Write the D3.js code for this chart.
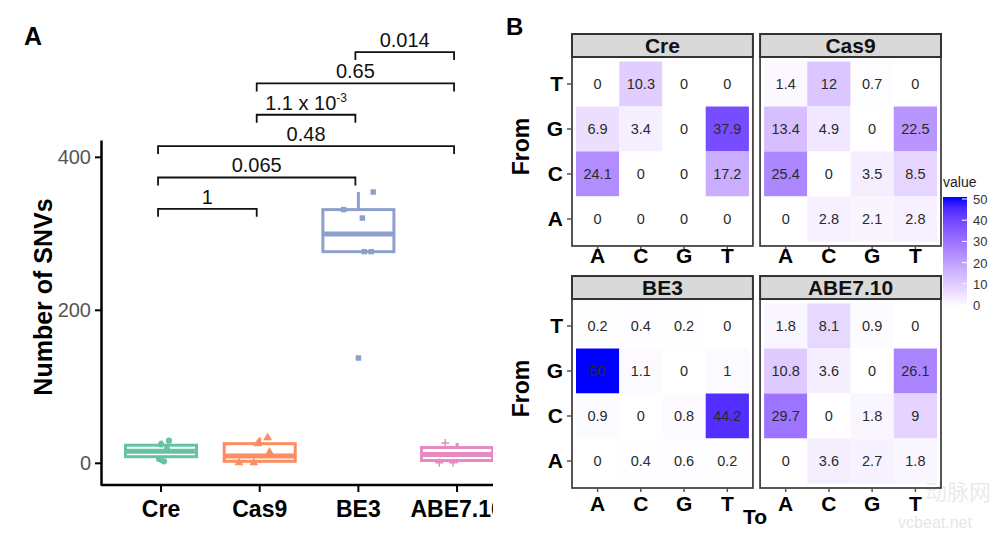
<!DOCTYPE html>
<html>
<head>
<meta charset="utf-8">
<script src="https://cdn.jsdelivr.net/npm/d3@7"></script>
<style>
  body { margin: 0; background: #fff; }
  text { font-family: "Liberation Sans", Arial, sans-serif; }
</style>
</head>
<body>
<div id="chart"></div>
<script>
// ---- panel A data
var groups = ["Cre", "Cas9", "BE3", "ABE7.10"];
var groupColors = ["#66c2a5", "#fc8d62", "#8da0cb", "#e78ac3"];
var q1 = [8, 2, 276, 3];
var median = [15, 9, 299, 11];
var q3 = [23, 25, 331, 20];
var whiskLo = [0, 0, 276, 0];
var whiskHi = [29, 33, 354, 26];
// [group, value, jitter (fraction of band)]
var points = [
  ["Cre", 29, 0.08], ["Cre", 24, 0.0], ["Cre", 2, 0.03], ["Cre", 5, -0.02], ["Cre", 18, 0.06],
  ["Cas9", 33, 0.08], ["Cas9", 25, -0.02], ["Cas9", 0, -0.21], ["Cas9", 0, -0.06], ["Cas9", 14, 0.1],
  ["BE3", 354, 0.15], ["BE3", 331, -0.15], ["BE3", 320, 0.04], ["BE3", 276, 0.06], ["BE3", 276, 0.13], ["BE3", 137, 0.0],
  ["ABE7.10", 26, -0.12], ["ABE7.10", 0, -0.18], ["ABE7.10", 0, -0.04]
];
var yTicks = [0, 200, 400];
// comparisons, bottom to top
var compA = ["Cre", "Cre", "Cre", "Cas9", "Cas9", "BE3"];
var compB = ["Cas9", "BE3", "ABE7.10", "BE3", "ABE7.10", "ABE7.10"];
var compLabel = ["1", "0.065", "0.48", "1.1 x 10", "0.65", "0.014"];

// ---- panel B data
var facets = ["Cre", "Cas9", "BE3", "ABE7.10"];
var fromBases = ["T", "G", "C", "A"];
var toBases = ["A", "C", "G", "T"];
var creVals = [[0, 10.3, 0, 0], [6.9, 3.4, 0, 37.9], [24.1, 0, 0, 17.2], [0, 0, 0, 0]];
var cas9Vals = [[1.4, 12, 0.7, 0], [13.4, 4.9, 0, 22.5], [25.4, 0, 3.5, 8.5], [0, 2.8, 2.1, 2.8]];
var be3Vals = [[0.2, 0.4, 0.2, 0], [50, 1.1, 0, 1], [0.9, 0, 0.8, 44.2], [0, 0.4, 0.6, 0.2]];
var abeVals = [[1.8, 8.1, 0.9, 0], [10.8, 3.6, 0, 26.1], [29.7, 0, 1.8, 9], [0, 3.6, 2.7, 1.8]];
var legendTicks = [0, 10, 20, 30, 40, 50];

var svg = d3.select("#chart").append("svg")
  .attr("width", 1000)
  .attr("height", 538);

// ================= Panel A
var x = d3.scaleBand().domain(groups).range([111.7, 506.4]);
var y = d3.scaleLinear().domain([-29, 422]).range([485, 140]);
var color = d3.scaleOrdinal().domain(groups).range(groupColors);

svg.append("defs").append("clipPath").attr("id", "clipA")
  .append("rect").attr("x", 0).attr("y", 0).attr("width", 493).attr("height", 538);

var gA = svg.append("g").attr("clip-path", "url(#clipA)");

svg.append("text").attr("x", 24).attr("y", 45)
  .style("font-size", "25px").style("font-weight", "bold").text("A");

var yAxis = gA.append("g").attr("transform", "translate(101,0)")
  .call(d3.axisLeft(y).tickValues(yTicks).tickSize(6).tickSizeOuter(0));
yAxis.select(".domain").attr("stroke", "#000").attr("stroke-width", 2.5);
yAxis.selectAll(".tick line").attr("stroke", "#000").attr("stroke-width", 2);
yAxis.selectAll(".tick text").attr("fill", "#555").style("font-size", "20px").attr("dx", "-1");

var xAxis = gA.append("g").attr("transform", "translate(0,485)")
  .call(d3.axisBottom(x).tickSize(7).tickSizeOuter(0));
xAxis.select(".domain").attr("d", "M101,0H500").attr("stroke", "#000").attr("stroke-width", 2.5);
xAxis.selectAll(".tick line").attr("stroke", "#000").attr("stroke-width", 2);
xAxis.selectAll(".tick text").attr("fill", "#000").style("font-size", "23px")
  .style("font-weight", "bold").attr("y", 16);

gA.append("text")
  .attr("transform", "translate(52,297) rotate(-90)")
  .attr("text-anchor", "middle")
  .style("font-size", "25px").style("font-weight", "bold")
  .text("Number of SNVs");

var boxW = x.bandwidth() * 0.72;
groups.forEach(function (g, i) {
  var cx = x(g) + x.bandwidth() / 2;
  var c = color(g);
  var bg = gA.append("g");
  bg.append("line").attr("x1", cx).attr("x2", cx)
    .attr("y1", y(q3[i])).attr("y2", y(whiskHi[i]))
    .attr("stroke", c).attr("stroke-width", 3);
  bg.append("line").attr("x1", cx).attr("x2", cx)
    .attr("y1", y(q1[i])).attr("y2", y(whiskLo[i]))
    .attr("stroke", c).attr("stroke-width", 3);
  bg.append("rect")
    .attr("x", cx - boxW / 2).attr("width", boxW)
    .attr("y", y(q3[i])).attr("height", y(q1[i]) - y(q3[i]))
    .attr("fill", "#fff").attr("stroke", c).attr("stroke-width", 3);
  bg.append("line").attr("x1", cx - boxW / 2).attr("x2", cx + boxW / 2)
    .attr("y1", y(median[i])).attr("y2", y(median[i]))
    .attr("stroke", c).attr("stroke-width", 5);
});

var shapes = {
  "Cre": d3.symbol().type(d3.symbolCircle).size(30),
  "Cas9": d3.symbol().type(d3.symbolTriangle).size(34),
  "BE3": d3.symbol().type(d3.symbolSquare).size(30)
};
points.forEach(function (p) {
  var px = x(p[0]) + x.bandwidth() / 2 + p[2] * x.step();
  var py = y(p[1]);
  if (p[0] === "ABE7.10") {
    gA.append("path")
      .attr("d", "M" + (px - 4) + "," + py + "H" + (px + 4) + "M" + px + "," + (py - 4) + "V" + (py + 4))
      .attr("stroke", color(p[0])).attr("stroke-width", 1.5);
  } else {
    gA.append("path").attr("d", shapes[p[0]]())
      .attr("transform", "translate(" + px + "," + py + ")")
      .attr("fill", color(p[0]));
  }
});

// significance brackets
compLabel.forEach(function (lab, i) {
  var lvl = y(332 + i * 41);
  var xa = x(compA[i]) + x.bandwidth() / 2 - 3;
  var xb = x(compB[i]) + x.bandwidth() / 2 - 3;
  gA.append("path")
    .attr("d", "M" + xa + "," + (lvl + 8) + "V" + lvl + "H" + xb + "V" + (lvl + 8))
    .attr("fill", "none").attr("stroke", "#111").attr("stroke-width", 1.8);
  var t = gA.append("text")
    .attr("x", (xa + xb) / 2).attr("y", lvl - 5)
    .attr("text-anchor", "middle")
    .style("font-size", "20px").attr("fill", "#111")
    .text(lab);
  if (lab === "1.1 x 10") {
    t.append("tspan").attr("dy", -8).style("font-size", "12px").text("-3");
  }
});

// ================= Panel B
svg.append("text").attr("x", 506).attr("y", 35)
  .style("font-size", "24px").style("font-weight", "bold").text("B");

var facetVals = [creVals, cas9Vals, be3Vals, abeVals];
var facetCol = d3.scaleBand().domain([0, 1]).range([572, 941]).paddingInner(0.038);
var facetRow = d3.scaleBand().domain([0, 1]).range([33, 488]).paddingInner(0.12);
var stripH = 24;
var fill = d3.scaleLinear().domain([0, 50]).range(["#ffffff", "#0000ff"])
  .interpolate(d3.interpolateLab);

facets.forEach(function (f, k) {
  var col = k % 2, row = Math.floor(k / 2);
  var px0 = facetCol(col);
  var pw = facetCol.bandwidth();
  var py0 = facetRow(row) + stripH;
  var ph = facetRow.bandwidth() - stripH;

  var tx = d3.scaleBand().domain(toBases).range([4, pw - 4]);
  var ty = d3.scaleBand().domain(fromBases).range([4.5, ph - 4.5]);

  var gP = svg.append("g").attr("transform", "translate(" + px0 + "," + py0 + ")");

  // strip
  svg.append("rect")
    .attr("x", px0).attr("y", facetRow(row) + 1).attr("width", pw).attr("height", stripH - 1)
    .attr("fill", "#d9d9d9").attr("stroke", "#333").attr("stroke-width", 2);
  svg.append("text")
    .attr("x", px0 + pw / 2).attr("y", facetRow(row) + stripH - 4)
    .attr("text-anchor", "middle")
    .style("font-size", "21px").style("font-weight", "bold").attr("fill", "#111")
    .text(f);

  var cells = [];
  fromBases.forEach(function (fb, r) {
    toBases.forEach(function (tb, c) {
      cells.push({ from: fb, to: tb, v: facetVals[k][r][c] });
    });
  });

  gP.selectAll("rect.cell").data(cells).enter().append("rect")
    .attr("class", "cell")
    .attr("x", function (d) { return tx(d.to); })
    .attr("y", function (d) { return ty(d.from); })
    .attr("width", tx.bandwidth())
    .attr("height", ty.bandwidth())
    .attr("fill", function (d) { return fill(d.v); });

  gP.selectAll("text.val").data(cells).enter().append("text")
    .attr("class", "val")
    .attr("x", function (d) { return tx(d.to) + tx.bandwidth() / 2; })
    .attr("y", function (d) { return ty(d.from) + ty.bandwidth() / 2 + 5; })
    .attr("text-anchor", "middle")
    .style("font-size", "14.5px").attr("fill", "#2a2a2a")
    .text(function (d) { return d.v; });

  gP.append("rect").attr("width", pw).attr("height", ph)
    .attr("fill", "none").attr("stroke", "#444").attr("stroke-width", 1.8);

  if (col === 0) {
    var ay = gP.append("g").call(d3.axisLeft(ty).tickSize(5));
    ay.select(".domain").remove();
    ay.selectAll(".tick line").attr("stroke", "#555").attr("stroke-width", 1.5);
    ay.selectAll(".tick text").style("font-size", "21px").style("font-weight", "bold")
      .attr("fill", "#000").attr("dx", "-1");
    gP.append("text")
      .attr("transform", "translate(-43," + (ph / 2 - 5) + ") rotate(-90)")
      .attr("text-anchor", "middle")
      .style("font-size", "23px").style("font-weight", "bold")
      .text("From");
  }
  var ax = gP.append("g").attr("transform", "translate(0," + ph + ")")
    .call(d3.axisBottom(tx).tickSize(4));
  ax.select(".domain").remove();
  ax.selectAll(".tick line").attr("stroke", "#555").attr("stroke-width", 1.5);
  ax.selectAll(".tick text").style("font-size", "21px").style("font-weight", "bold")
    .attr("fill", "#000").attr("y", row === 0 ? 2 : 8);
});

svg.append("text").attr("x", 755).attr("y", 524)
  .attr("text-anchor", "middle")
  .style("font-size", "21px").style("font-weight", "bold")
  .text("To");

// legend
var lg = svg.append("g").attr("transform", "translate(943,0)");
var grad = svg.select("defs").append("linearGradient").attr("id", "gradV")
  .attr("x1", 0).attr("y1", 1).attr("x2", 0).attr("y2", 0);
d3.range(0, 51, 5).forEach(function (v) {
  grad.append("stop").attr("offset", v / 50).attr("stop-color", fill(v));
});
var ly = d3.scaleLinear().domain([0, 50]).range([305, 199]);
lg.append("text").attr("x", 0).attr("y", 187)
  .style("font-size", "14px").attr("fill", "#222").text("value");
lg.append("rect").attr("x", 0).attr("y", ly(50) - 2).attr("width", 24)
  .attr("height", ly(0) - ly(50) + 4).attr("fill", "url(#gradV)");
lg.selectAll("line.lt").data(legendTicks).enter().append("line")
  .attr("x1", 19).attr("x2", 24)
  .attr("y1", function (d) { return ly(d); }).attr("y2", function (d) { return ly(d); })
  .attr("stroke", "#fff").attr("stroke-width", 1);
lg.selectAll("text.lt").data(legendTicks).enter().append("text")
  .attr("x", 30).attr("y", function (d) { return ly(d) + 5; })
  .style("font-size", "13px").attr("fill", "#333")
  .text(function (d) { return d; });

// watermark
svg.append("text").attr("x", 958).attr("y", 500).attr("text-anchor", "middle")
  .style("font-size", "22px").attr("fill", "#000").attr("opacity", 0.08)
  .style("font-family", "Noto Sans CJK SC").text("动脉网");
svg.append("text").attr("x", 935).attr("y", 528).attr("text-anchor", "middle")
  .style("font-size", "16px").attr("fill", "#000").attr("opacity", 0.1)
  .text("vcbeat.net");
</script>
</body>
</html>
